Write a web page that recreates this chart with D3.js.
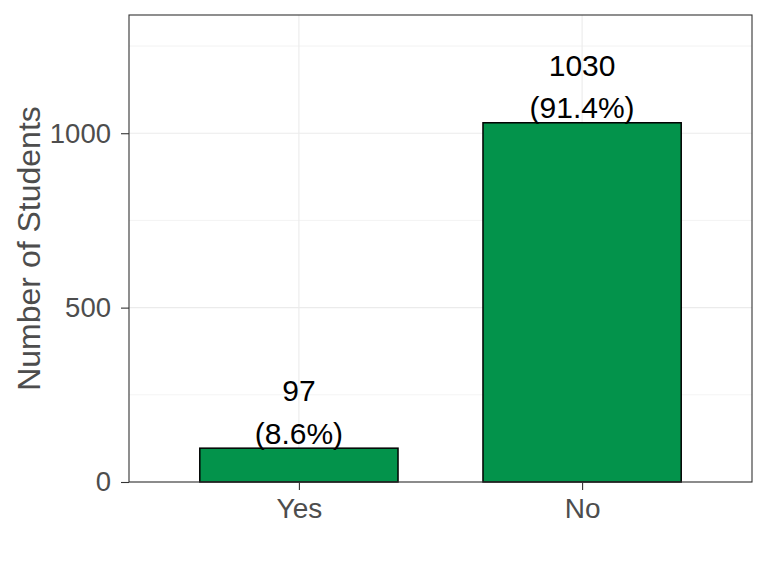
<!DOCTYPE html>
<html>
<head>
<meta charset="utf-8">
<script src="https://cdn.jsdelivr.net/npm/d3@7"></script>
<style>
  body { margin: 0; background: #fff; }
  svg { display: block; font-family: "Liberation Sans", Arial, sans-serif; }
</style>
</head>
<body>
<svg id="chart" width="768" height="576"></svg>
<script>
const categories = ["Yes", "No"];
const counts = [97, 1030];
const percentLabels = ["(8.6%)", "(91.4%)"];
const yTicks = [0, 500, 1000];
const yMinorTicks = [250, 750, 1250];
const yMax = 1339;

const W = 768, H = 576;
const panel = { left: 129, right: 752, top: 15, bottom: 482 };

const svg = d3.select("#chart");
svg.append("rect").attr("width", W).attr("height", H).attr("fill", "#fff");

// ggplot discrete: centers at 0.6 and 1.6 units of 2.2-unit width
const xCenter = d3.scalePoint().domain(categories)
  .range([panel.left + (panel.right - panel.left) * 0.6 / 2.2,
          panel.left + (panel.right - panel.left) * 1.6 / 2.2]);
const unit = (panel.right - panel.left) / 2.2;
const barW = unit * 0.7;

const y = d3.scaleLinear().domain([0, yMax]).range([panel.bottom, panel.top]);

const data = categories.map((c, i) => ({ cat: c, n: counts[i], pct: percentLabels[i] }));

// minor grid
svg.append("g").selectAll("line").data(yMinorTicks).join("line")
  .attr("x1", panel.left).attr("x2", panel.right)
  .attr("y1", d => y(d)).attr("y2", d => y(d))
  .attr("stroke", "#EBEBEB").attr("stroke-width", 0.6);

// major grid
svg.append("g").selectAll("line").data(yTicks).join("line")
  .attr("x1", panel.left).attr("x2", panel.right)
  .attr("y1", d => y(d)).attr("y2", d => y(d))
  .attr("stroke", "#EBEBEB").attr("stroke-width", 1.1);
svg.append("g").selectAll("line").data(categories).join("line")
  .attr("x1", d => xCenter(d)).attr("x2", d => xCenter(d))
  .attr("y1", panel.top).attr("y2", panel.bottom)
  .attr("stroke", "#EBEBEB").attr("stroke-width", 1.1);

// bars
svg.append("g").selectAll("rect").data(data).join("rect")
  .attr("x", d => xCenter(d.cat) - barW / 2)
  .attr("width", barW)
  .attr("y", d => y(d.n))
  .attr("height", d => y(0) - y(d.n))
  .attr("fill", "#03934B")
  .attr("stroke", "#000")
  .attr("stroke-width", 1.5);

// labels
const lab = svg.append("g").attr("font-size", 30).attr("fill", "#000").attr("text-anchor", "middle");
lab.selectAll("text.pct").data(data).join("text")
  .attr("class", "pct")
  .attr("x", d => xCenter(d.cat))
  .attr("y", d => y(d.n) - 4.5)
  .text(d => d.pct);
lab.selectAll("text.cnt").data(data).join("text")
  .attr("class", "cnt")
  .attr("x", d => xCenter(d.cat))
  .attr("y", d => y(d.n) - 4.5 - 42.5)
  .text(d => d.n);

// panel border
svg.append("rect")
  .attr("x", panel.left).attr("y", panel.top)
  .attr("width", panel.right - panel.left).attr("height", panel.bottom - panel.top)
  .attr("fill", "none").attr("stroke", "#333333").attr("stroke-width", 1.1);

// y axis
const yAxis = d3.axisLeft(y).tickValues(yTicks).tickSize(8).tickPadding(10).tickFormat(d3.format("d"));
const gy = svg.append("g").attr("transform", `translate(${panel.left},0)`).call(yAxis);
gy.select(".domain").remove();
gy.selectAll(".tick line").attr("stroke", "#333333").attr("stroke-width", 1.1);
gy.selectAll(".tick text").attr("fill", "#4D4D4D").attr("font-size", 27.5)
  .attr("font-family", "Liberation Sans, Arial, sans-serif");

// x axis
const xAxis = d3.axisBottom(xCenter).tickSize(8).tickPadding(8);
const gx = svg.append("g").attr("transform", `translate(0,${panel.bottom})`).call(xAxis);
gx.select(".domain").remove();
gx.selectAll(".tick line").attr("stroke", "#333333").attr("stroke-width", 1.1);
gx.selectAll(".tick text").attr("fill", "#4D4D4D").attr("font-size", 28)
  .attr("font-family", "Liberation Sans, Arial, sans-serif");

// y title
svg.append("text")
  .attr("transform", `translate(39.5,${(panel.top + panel.bottom) / 2}) rotate(-90)`)
  .attr("text-anchor", "middle")
  .attr("font-size", 32)
  .attr("fill", "#4D4D4D")
  .text("Number of Students");
</script>
</body>
</html>
